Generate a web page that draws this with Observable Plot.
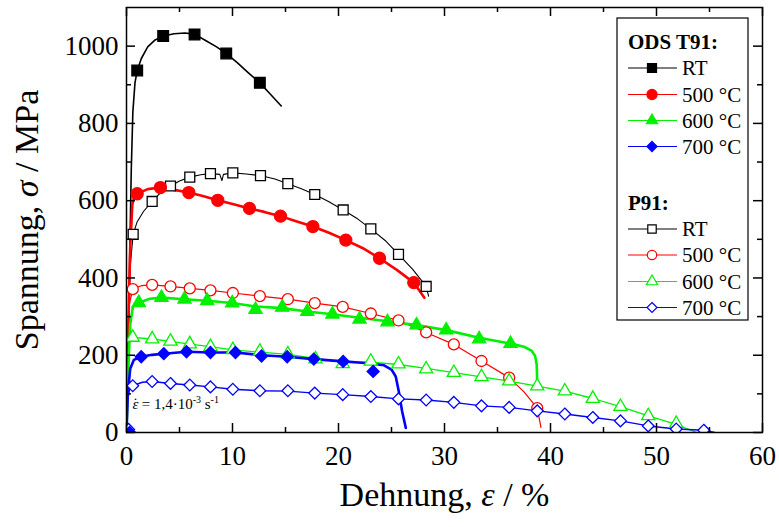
<!DOCTYPE html>
<html><head><meta charset="utf-8">
<script src="https://cdn.jsdelivr.net/npm/d3@7"></script>
<script src="https://cdn.jsdelivr.net/npm/@observablehq/plot@0.6"></script>
<style>
body{margin:0;background:#fff}
#chart{position:relative;width:779px;height:527px}
</style>
</head><body><div id="chart"></div>
<script>
// ---------- axis ticks ----------
const xTicks = [0, 10, 20, 30, 40, 50, 60];
const xMinorTicks = [5, 15, 25, 35, 45, 55];
const yTicks = [0, 200, 400, 600, 800, 1000];
const yMinorTicks = [100, 300, 500, 700, 900];

// ---------- text ----------
const xLabel = "Dehnung, ε / %";
const yLabel = "Spannung, σ / MPa";
const rateLabel = "ε˙ = 1,4·10-3 s-1";
const groupODS = "ODS T91:";
const groupP91 = "P91:";
const tempLabels = ["RT", "500 °C", "600 °C", "700 °C"];

// ---------- data: [strain %, stress MPa] ----------
const odsRT_curve = [[0,0],[0.15,200],[0.3,450],[0.45,680],[0.6,830],[0.8,905],[1.01,937],[1.4,968],[2.0,998],[2.7,1016],[3.46,1026],[4.5,1032],[5.5,1034],[6.42,1031],[7.5,1014],[8.5,998],[9.41,981],[10.5,956],[11.5,931],[12.58,905],[13.6,875],[14.6,845]];
const odsRT_markers = [[1.01,937],[3.46,1026],[6.42,1030],[9.41,981],[12.58,905]];

const ods500_curve = [[0,0],[0.15,250],[0.35,480],[0.55,590],[0.75,612],[1.01,618],[2.0,630],[3.2,634],[4.5,628],[5.88,621],[7.2,612],[8.61,601],[10.1,591],[11.6,580],[13.0,571],[14.53,560],[16.0,547],[17.58,533],[19.1,517],[20.69,498],[22.3,477],[23.87,451],[25.5,421],[27.1,388],[28.1,349]];
const ods500_markers = [[1.01,618],[3.2,634],[5.88,621],[8.61,601],[11.6,580],[14.53,560],[17.58,533],[20.69,498],[23.87,451],[27.1,388]];

const ods600_curve = [[0,0],[0.15,150],[0.35,280],[0.6,325],[1.16,336],[2.2,346],[3.3,349],[5.47,345],[7.61,341],[9.97,335],[12.17,326],[14.69,322],[17.05,313],[19.43,306],[21.98,297],[24.62,288],[27.36,278],[30.16,265],[33.27,245],[36.23,230],[37.5,222],[38.2,212],[38.55,198],[38.7,175],[38.75,125]];
const ods600_markers = [[1.16,336],[3.3,349],[5.47,345],[7.61,341],[9.97,335],[12.17,318],[14.69,324],[17.05,313],[19.43,306],[21.98,293],[24.62,286],[27.36,278],[30.16,265],[33.27,242],[36.23,230]];

const ods700_curve = [[0,0],[0.12,100],[0.35,165],[0.7,188],[1.39,196],[2.4,201],[3.52,204],[5.66,209],[7.92,207],[10.28,207],[12.74,200],[15.16,196],[17.67,190],[20.44,184],[22.5,180],[24.3,174],[25.0,163],[25.4,145],[25.7,105],[26.0,55],[26.35,12]];
const ods700_markers = [[0.3,0],[1.39,196],[3.52,204],[5.66,209],[7.92,207],[10.28,207],[12.74,198],[15.16,196],[17.67,190],[20.44,184],[23.27,158]];

const p91RT_curve = [[0,0],[0.15,250],[0.35,430],[0.63,513],[1.0,545],[1.6,572],[2.42,598],[3.2,620],[4.15,638],[5.0,651],[5.97,661],[7.0,667],[7.92,670],[8.8,668],[9.0,652],[9.15,668],[10.03,672],[11.3,669],[12.64,665],[14.0,656],[15.22,644],[16.5,631],[17.76,616],[19.1,597],[20.44,576],[21.8,553],[23.05,527],[24.4,497],[25.66,461],[27.0,422],[28.27,378],[28.5,353]];
const p91RT_markers = [[0.63,513],[2.42,598],[4.15,638],[5.97,661],[7.92,670],[10.03,672],[12.64,665],[15.22,644],[17.76,616],[20.44,576],[23.05,527],[25.66,461],[28.27,378]];

const p91500_curve = [[0,0],[0.1,200],[0.25,330],[0.59,371],[1.4,380],[2.42,382],[4.15,378],[5.97,373],[7.92,368],[10.03,361],[12.58,353],[15.22,345],[17.76,335],[20.4,325],[23.05,308],[25.66,290],[28.27,259],[30.88,228],[33.49,185],[36.1,142],[37.5,105],[38.75,63],[39.1,13]];
const p91500_markers = [[0.59,371],[2.42,382],[4.15,378],[5.97,373],[7.92,368],[10.03,361],[12.58,353],[15.22,345],[17.76,335],[20.4,325],[23.05,308],[25.66,290],[28.27,259],[30.88,228],[33.49,185],[36.1,142],[38.75,63]];

const p91600_curve = [[0,0],[0.1,150],[0.3,240],[0.59,246],[2.42,242],[4.15,236],[5.97,229],[7.92,222],[10.03,214],[12.58,208],[15.22,202],[17.83,192],[20.4,182],[23.05,182],[25.66,176],[28.27,166],[30.88,155],[33.49,144],[36.1,133],[38.75,120],[41.35,107],[43.99,88],[46.6,67],[49.22,43],[51.86,21],[53.8,0]];
const p91600_markers = [[0.59,246],[2.42,242],[4.15,236],[5.97,229],[7.92,222],[10.03,214],[12.58,210],[15.22,203],[17.83,190],[20.4,178],[23.05,184],[25.66,177],[28.27,164],[30.88,155],[33.49,144],[36.1,133],[38.75,120],[41.35,107],[43.99,88],[46.6,67],[49.22,43],[51.86,23]];

const p91700_curve = [[0,0],[0.1,80],[0.3,115],[0.59,121],[1.5,130],[2.42,132],[4.15,127],[5.97,123],[7.92,118],[10.03,112],[12.58,108],[15.22,107],[17.76,102],[20.4,98],[23.05,93],[25.66,87],[28.27,84],[30.88,78],[33.49,69],[36.1,65],[38.75,56],[41.35,48],[43.99,39],[46.6,30],[49.22,17],[51.86,9],[54.46,6],[55.5,0]];
const p91700_markers = [[0.2,8],[0.59,121],[2.42,132],[4.15,127],[5.97,123],[7.92,118],[10.03,112],[12.58,108],[15.22,108],[17.76,102],[20.4,98],[23.05,93],[25.66,87],[28.27,84],[30.88,78],[33.49,69],[36.1,65],[38.75,56],[41.35,48],[43.99,39],[46.6,30],[49.22,17],[51.86,9],[54.46,6]];

// ---------- styles ----------
const RED = "#ff0000", GREEN = "#00f000", BLUE = "#0000ff", BLACK = "#000000";
const odsSeries = [
  {label: tempLabels[0], curve: odsRT_curve, markers: odsRT_markers, color: BLACK, symbol: "square", r: 6, filled: true, lw: 1.6},
  {label: tempLabels[1], curve: ods500_curve, markers: ods500_markers, color: RED, symbol: "circle", r: 6, filled: true, lw: 2.6},
  {label: tempLabels[2], curve: ods600_curve, markers: ods600_markers, color: GREEN, symbol: "triangle", r: 4.9, filled: true, lw: 2.6},
  {label: tempLabels[3], curve: ods700_curve, markers: ods700_markers, color: BLUE, symbol: "diamond2", r: 5.4, filled: true, lw: 2.6}
];
const p91Series = [
  {label: tempLabels[0], curve: p91RT_curve, markers: p91RT_markers, color: BLACK, symbol: "square", r: 5.6, filled: false, lw: 1.1},
  {label: tempLabels[1], curve: p91500_curve, markers: p91500_markers, color: RED, symbol: "circle", r: 5.5, filled: false, lw: 1.2},
  {label: tempLabels[2], curve: p91600_curve, markers: p91600_markers, color: GREEN, symbol: "triangle", r: 4.9, filled: false, lw: 1.3},
  {label: tempLabels[3], curve: p91700_curve, markers: p91700_markers, color: BLUE, symbol: "diamond2", r: 5.3, filled: false, lw: 1.4}
];

const W = 779, H = 527, mL = 126, mR = 17, mT = 7, mB = 95;
const fw = W - mL - mR, fh = H - mT - mB;
const FONT = "'Liberation Serif', 'Times New Roman', serif";

const marks = [];
for (const s of [...p91Series, ...odsSeries]) {
  marks.push(Plot.line(s.curve, {x: d => d[0], y: d => d[1], stroke: s.color, strokeWidth: s.lw, clip: true}));
}
for (const s of [...p91Series, ...odsSeries]) {
  marks.push(Plot.dot(s.markers, {x: d => d[0], y: d => d[1], symbol: s.symbol, r: s.r,
    fill: s.filled ? s.color : "white", stroke: s.color, strokeWidth: 1.3, clip: true}));
}
// inward ticks on all four sides
const tk = {stroke: "black", strokeWidth: 1.5};
marks.push(
  Plot.tickY(yTicks, {y: d => d, insetRight: fw - 9, ...tk}),
  Plot.tickY(yMinorTicks, {y: d => d, insetRight: fw - 5, ...tk}),
  Plot.tickY(yTicks, {y: d => d, insetLeft: fw - 9, ...tk}),
  Plot.tickY(yMinorTicks, {y: d => d, insetLeft: fw - 5, ...tk}),
  Plot.tickX(xTicks, {x: d => d, insetTop: fh - 9, ...tk}),
  Plot.tickX(xMinorTicks, {x: d => d, insetTop: fh - 5, ...tk}),
  Plot.tickX(xTicks, {x: d => d, insetBottom: fh - 9, ...tk}),
  Plot.tickX(xMinorTicks, {x: d => d, insetBottom: fh - 5, ...tk}),
  Plot.axisX(xTicks, {tickSize: 0, tickPadding: 13, fontSize: 27, label: null, tickFormat: d => String(d)}),
  Plot.axisY(yTicks, {tickSize: 0, tickPadding: 8, fontSize: 27, label: null, tickFormat: d => String(d)}),
  Plot.frame({stroke: "black", strokeWidth: 1.5}),
  Plot.text([xLabel], {frameAnchor: "bottom", dy: 73, fontSize: 34, textAnchor: "middle"}),
  Plot.text([yLabel], {frameAnchor: "left", dx: -99, rotate: -90, fontSize: 34, textAnchor: "middle"}),
  Plot.text([rateLabel], {frameAnchor: "bottom-left", dx: 6, dy: -24, textAnchor: "start", fontSize: 15})
);

const chart = Plot.plot({
  width: W, height: H,
  marginLeft: mL, marginRight: mR, marginTop: mT, marginBottom: mB,
  x: {domain: [0, 60]},
  y: {domain: [0, 1100]},
  style: {fontFamily: FONT, fontSize: "27px", background: "white", color: "black"},
  marks
});

// rich text (italic symbols, dot above, superscripts)
chart.querySelectorAll("text").forEach(t => {
  const c = t.textContent;
  if (c === xLabel) t.innerHTML = 'Dehnung, <tspan font-style="italic">ε</tspan> / %';
  else if (c === yLabel) t.innerHTML = 'Spannung, <tspan font-style="italic">σ</tspan> / MPa';
  else if (c === rateLabel) t.innerHTML = '<tspan font-style="italic">ε</tspan><tspan dx="-5.5" dy="-1">˙</tspan><tspan dy="1"> = 1,4·10</tspan><tspan font-size="10" dy="-6">-3</tspan><tspan dy="6"> s</tspan><tspan font-size="10" dy="-6">-1</tspan>';
});

// legend
const svg = d3.select(chart);
const lg = svg.append("g").attr("font-family", FONT).attr("font-size", 21).attr("text-anchor", "start");
lg.append("rect").attr("x", 617).attr("y", 18).attr("width", 131).attr("height", 302)
  .attr("fill", "white").attr("stroke", "black").attr("stroke-width", 1.2);
const symMap = {square: d3.symbolSquare, circle: d3.symbolCircle, triangle: d3.symbolTriangle, diamond2: d3.symbolDiamond2 || d3.symbolSquare};
function legendGroup(title, titleY, rows, series) {
  lg.append("text").attr("x", 628).attr("y", titleY + 7).attr("font-weight", "bold").text(title);
  series.forEach((s, i) => {
    const cy = rows[i];
    lg.append("line").attr("x1", 628).attr("x2", 677).attr("y1", cy).attr("y2", cy)
      .attr("stroke", s.color).attr("stroke-width", 1.2);
    const rr = s.r * 0.85;
    lg.append("path").attr("d", d3.symbol(symMap[s.symbol], Math.PI * rr * rr)())
      .attr("transform", `translate(652,${cy})` + (s.symbol === "diamond2" && !d3.symbolDiamond2 ? " rotate(45)" : ""))
      .attr("fill", s.filled ? s.color : "white").attr("stroke", s.color).attr("stroke-width", 1.2);
    lg.append("text").attr("x", 682).attr("y", cy + 7).text(s.label);
  });
}
legendGroup(groupODS, 42, [68, 94.5, 120.5, 146.5], odsSeries);
legendGroup(groupP91, 203, [229, 255, 281.5, 307.5], p91Series);

document.getElementById("chart").appendChild(chart);
</script>
</body></html>
